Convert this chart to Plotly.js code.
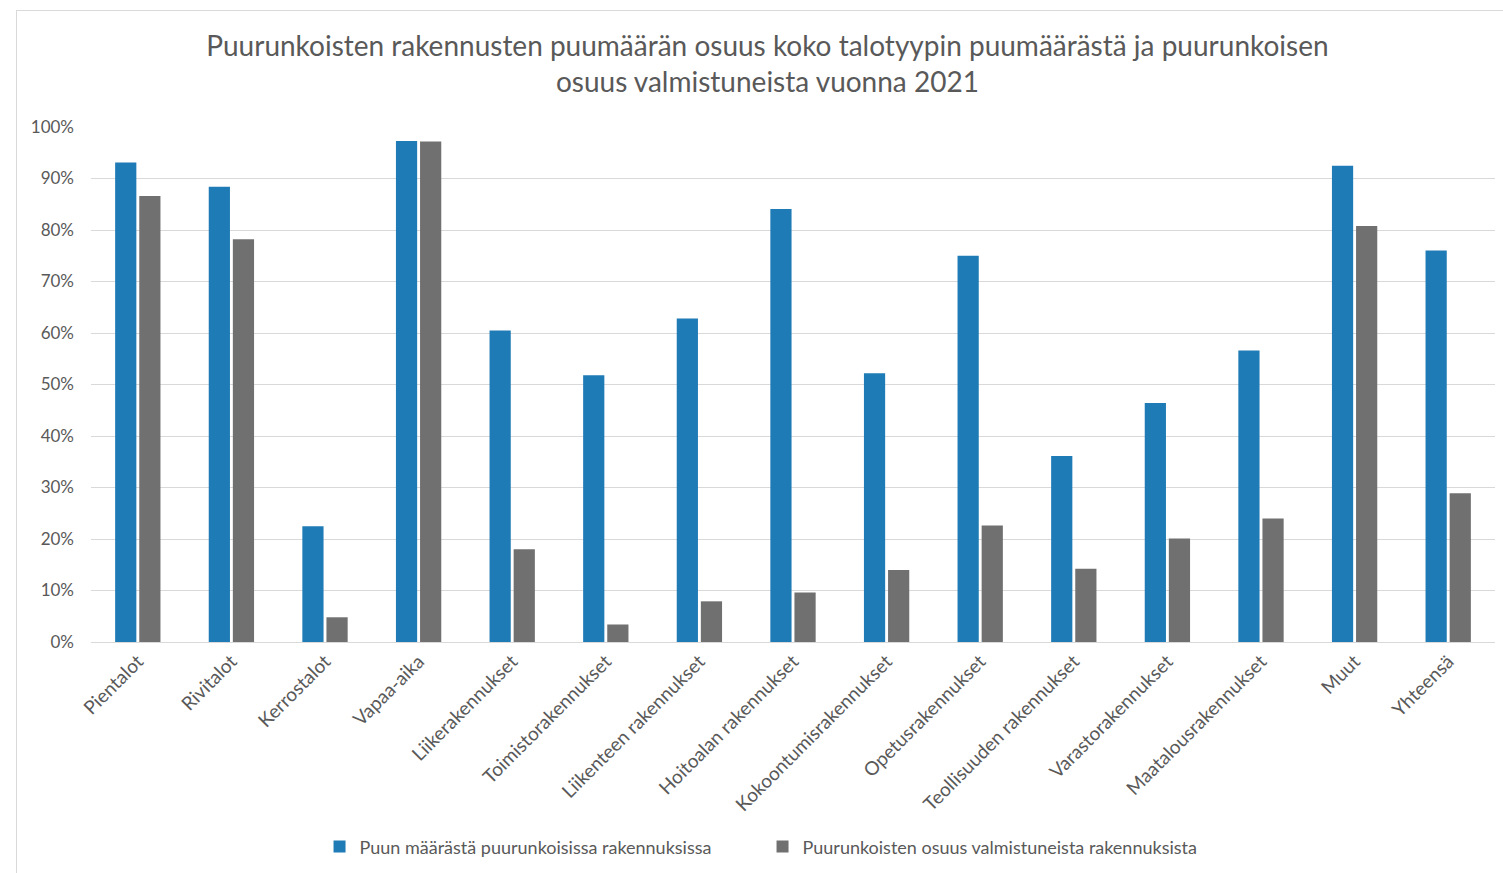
<!DOCTYPE html>
<html>
<head>
<meta charset="utf-8">
<script src="https://cdn.plot.ly/plotly-3.0.1.min.js"></script>
<style>
  html, body { margin: 0; padding: 0; background: #ffffff; }
  #wrap { position: relative; width: 1503px; height: 873px; overflow: hidden; }
  #frame { position: absolute; left: 16px; top: 10px; width: 1600px; height: 1000px;
           border-left: 1px solid #d9d9d9; border-top: 1px solid #d9d9d9; pointer-events: none; }
  #chart { position: absolute; left: 0; top: 0; width: 1503px; height: 873px; }
</style>
</head>
<body>
<div id="wrap">
  <div id="chart"></div>
  <div id="frame"></div>
</div>
<script>
const categories = ["Pientalot", "Rivitalot", "Kerrostalot", "Vapaa-aika", "Liikerakennukset",
  "Toimistorakennukset", "Liikenteen rakennukset", "Hoitoalan rakennukset", "Kokoontumisrakennukset",
  "Opetusrakennukset", "Teollisuuden rakennukset", "Varastorakennukset", "Maatalousrakennukset",
  "Muut", "Yhteensä"];
const woodShare = [0.931, 0.884, 0.225, 0.973, 0.605, 0.518, 0.628, 0.841, 0.522, 0.750,
  0.361, 0.464, 0.566, 0.925, 0.760];
const completedShare = [0.866, 0.782, 0.048, 0.972, 0.180, 0.034, 0.079, 0.096, 0.140, 0.226,
  0.142, 0.201, 0.240, 0.808, 0.289];
const seriesNames = ["Puun määrästä puurunkoisissa rakennuksissa",
  "Puurunkoisten osuus valmistuneista rakennuksista"];
const titleText = "Puurunkoisten rakennusten puumäärän osuus koko talotyypin puumäärästä ja puurunkoisen<br>osuus valmistuneista vuonna 2021";

const FONT = "Lato, 'Open Sans', sans-serif";
const TXT = "#595959";

const traces = [
  { type: "bar", name: seriesNames[0], x: categories, y: woodShare,
    marker: { color: "#1f7bb6" }, hoverinfo: "x+y" },
  { type: "bar", name: seriesNames[1], x: categories, y: completedShare,
    marker: { color: "#707070" }, hoverinfo: "x+y" }
];

const layout = {
  width: 1503, height: 873,
  paper_bgcolor: "rgba(0,0,0,0)", plot_bgcolor: "rgba(0,0,0,0)",
  margin: { l: 91, r: 8, t: 127, b: 231, pad: 0 },
  font: { family: FONT, color: TXT, size: 16 },
  title: { text: titleText, font: { family: FONT, size: 28, color: TXT },
           xref: "container", x: 0.5106, xanchor: "center",
           yref: "container", y: 0.936, yanchor: "middle" },
  barmode: "group", bargap: 0.485, bargroupgap: 0.12,
  showlegend: true,
  legend: { orientation: "h", xref: "container", x: 0.2126, xanchor: "left",
            yref: "container", y: 0.03, yanchor: "middle",
            entrywidth: 398, entrywidthmode: "pixels",
            font: { family: FONT, size: 18, color: TXT }, itemclick: false },
  xaxis: { type: "category", tickangle: -45, showgrid: false, zeroline: false,
           showline: true, linecolor: "#d9d9d9", linewidth: 1, ticks: "",
           tickfont: { family: FONT, size: 19, color: TXT }, automargin: false },
  yaxis: { range: [0, 1], dtick: 0.1, tickformat: ".0%", showgrid: true,
           gridcolor: "#d9d9d9", gridwidth: 1, zeroline: false, showline: false,
           ticks: "", ticklen: 0, ticklabelstandoff: 16,
           tickfont: { family: FONT, size: 17, color: TXT }, automargin: false }
};

Plotly.newPlot("chart", traces, layout, { displayModeBar: false, staticPlot: false });
</script>
</body>
</html>
